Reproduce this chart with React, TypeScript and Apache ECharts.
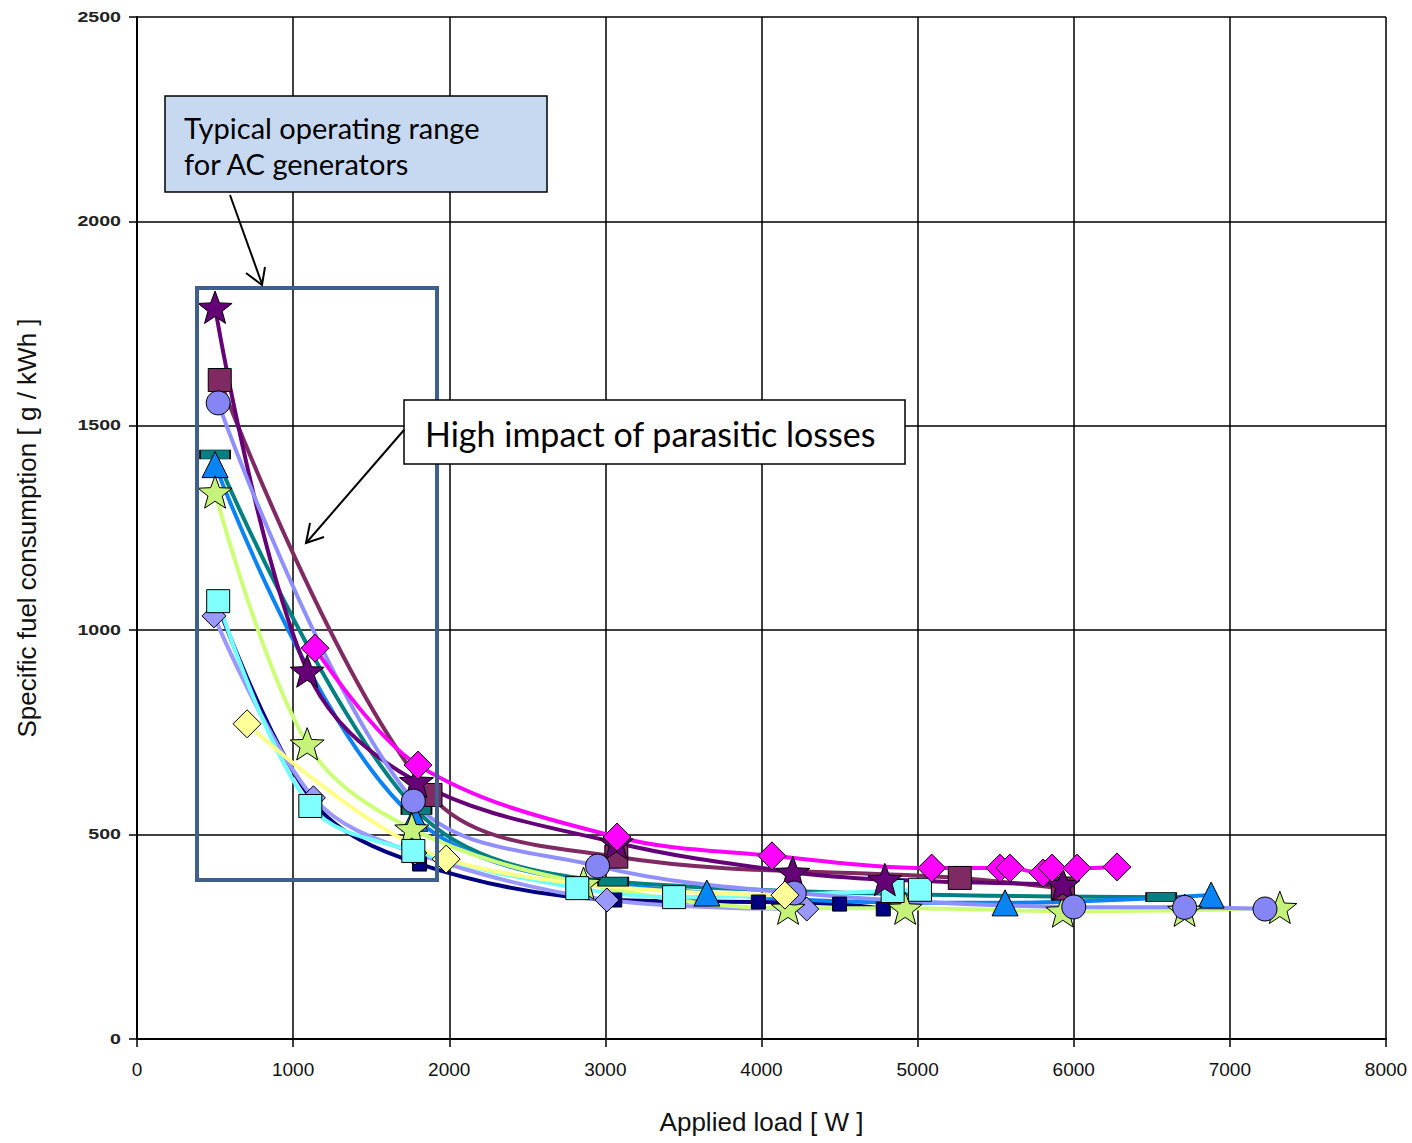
import React, { useEffect, useRef } from "react";
import * as echarts from "echarts";

// ---------- data ----------
const xTicks = [0, 1000, 2000, 3000, 4000, 5000, 6000, 7000, 8000];
const yTicks = [0, 500, 1000, 1500, 2000, 2500];

const navyX = [500, 1130, 1810, 3060, 3980, 4500, 4780];
const navyY = [1080, 580, 428, 340, 335, 330, 318];

const lavDiaX = [493, 1130, 1780, 3010, 4290];
const lavDiaY = [1035, 590, 455, 340, 318];

const tealX = [500, 1790, 3050, 6560];
const tealY = [1430, 560, 385, 347];

const blueX = [500, 1780, 3650, 5560, 6880];
const blueY = [1405, 540, 357, 333, 352];

const greenX = [500, 1090, 1760, 2860, 4170, 4920, 5930, 6710, 7320];
const greenY = [1338, 722, 514, 381, 320, 320, 313, 315, 322];

const cyanX = [520, 1110, 1770, 2820, 3440, 4840, 5015];
const cyanY = [1071, 570, 460, 369, 347, 362, 365];

const maroonX = [530, 1880, 3070, 5270, 5930];
const maroonY = [1612, 597, 446, 394, 368];

const purpleX = [500, 1090, 1790, 3070, 4200, 4790, 5930];
const purpleY = [1790, 900, 630, 480, 408, 390, 378];

const lavCircX = [520, 1770, 2950, 4210, 6000, 6710, 7225];
const lavCircY = [1556, 582, 423, 357, 323, 322, 318];

const yellowX = [705, 1980, 4150];
const yellowY = [771, 440, 352];

const magentaX = [1140, 1800, 3075, 4067, 5090, 5527, 5591, 5803, 5861, 6021, 6277];
const magentaY = [956, 670, 494, 448, 418, 418, 418, 406, 418, 418, 421];

// ---------- styling ----------
const STAR =
  "path://M50,0L62.34,33.01L97.55,34.55L69.97,56.49L79.39,90.45L50,71L20.61,90.45L30.03,56.49L2.45,34.55L37.66,33.01Z";

const AXIS_FONT = "'Liberation Sans', Arial, Helvetica, sans-serif";
const NOTE_FONT = "Lato, 'Open Sans', sans-serif";

function pairs(xs: number[], ys: number[]) {
  return xs.map((x, i) => [x, ys[i]]);
}

function mkSeries(
  name: string,
  xs: number[],
  ys: number[],
  lineColor: string,
  fill: string,
  symbol: string,
  size: number | number[]
) {
  return {
    name,
    type: "line",
    data: pairs(xs, ys),
    smooth: 0.35,
    symbol,
    symbolSize: size,
    symbolKeepAspect: true,
    showAllSymbol: true,
    lineStyle: { color: lineColor, width: 4 },
    itemStyle: { color: fill, borderColor: "#000", borderWidth: 1 },
    emphasis: { disabled: true },
    z: 3,
  };
}

const annotations: any[] = [
  {
    type: "rect",
    z: 100,
    shape: { x: 197, y: 288, width: 240, height: 592 },
    style: { fill: "none", stroke: "#3F5F8C", lineWidth: 4 },
  },
  {
    type: "rect",
    z: 100,
    shape: { x: 165, y: 96, width: 382, height: 96 },
    style: { fill: "#C6D9F1", stroke: "#000", lineWidth: 1.5 },
  },
  {
    type: "text",
    z: 101,
    x: 184,
    y: 127,
    style: {
      text: "Typical operating range",
      font: `29px ${NOTE_FONT}`,
      fill: "#000",
      verticalAlign: "middle",
    },
  },
  {
    type: "text",
    z: 101,
    x: 184,
    y: 163,
    style: {
      text: "for AC generators",
      font: `29px ${NOTE_FONT}`,
      fill: "#000",
      verticalAlign: "middle",
    },
  },
  {
    type: "line",
    z: 100,
    shape: { x1: 230, y1: 195, x2: 262, y2: 284 },
    style: { stroke: "#000", lineWidth: 2 },
  },
  {
    type: "polyline",
    z: 100,
    shape: { points: [[246, 273], [262, 285], [265, 267]] },
    style: { stroke: "#000", lineWidth: 2, fill: "none" },
  },
  {
    type: "rect",
    z: 100,
    shape: { x: 404, y: 400, width: 501, height: 64 },
    style: { fill: "#fff", stroke: "#000", lineWidth: 1.5 },
  },
  {
    type: "text",
    z: 101,
    x: 425,
    y: 433,
    style: {
      text: "High impact of parasitic losses",
      font: `34px ${NOTE_FONT}`,
      fill: "#000",
      verticalAlign: "middle",
    },
  },
  {
    type: "line",
    z: 100,
    shape: { x1: 404, y1: 430, x2: 307, y2: 542 },
    style: { stroke: "#000", lineWidth: 2 },
  },
  {
    type: "polyline",
    z: 100,
    shape: { points: [[310, 523], [306, 543], [324, 537]] },
    style: { stroke: "#000", lineWidth: 2, fill: "none" },
  },
];

export default function App() {
  const ref = useRef<HTMLDivElement>(null);

  useEffect(() => {
    if (!ref.current) return;
    const chart = echarts.init(ref.current, undefined, { renderer: "svg" });

    const series = [
      mkSeries("navy", navyX, navyY, "#000080", "#000080", "rect", 14),
      mkSeries("lavender2", lavDiaX, lavDiaY, "#9999FF", "#9999FF", "diamond", 24),
      mkSeries("teal", tealX, tealY, "#008080", "#008080", "rect", [30, 9]),
      mkSeries("blue", blueX, blueY, "#0A84F5", "#0A84F5", "triangle", 26),
      mkSeries("green", greenX, greenY, "#CCFF77", "#C4F27A", STAR, 34),
      mkSeries("cyan", cyanX, cyanY, "#70FFFF", "#80FFFF", "rect", 23),
      mkSeries("maroon", maroonX, maroonY, "#7F2A62", "#7F2A62", "rect", 23),
      mkSeries("purple", purpleX, purpleY, "#660077", "#660077", STAR, 34),
      mkSeries("lavcirc", lavCircX, lavCircY, "#8F8FFF", "#8585F5", "circle", 24),
      mkSeries("yellow", yellowX, yellowY, "#FFFF88", "#FFFF99", "diamond", 28),
      mkSeries("magenta", magentaX, magentaY, "#FF00FF", "#FF00FF", "diamond", 28),
    ];

    const option: any = {
      animation: false,
      backgroundColor: "#ffffff",
      grid: { left: 137, top: 17, width: 1249, height: 1022, containLabel: false },
      xAxis: {
        type: "value",
        min: xTicks[0],
        max: xTicks[xTicks.length - 1],
        interval: xTicks[1] - xTicks[0],
        name: "Applied load [ W ]",
        nameLocation: "middle",
        nameGap: 70,
        nameTextStyle: { fontSize: 26, color: "#111", fontFamily: AXIS_FONT },
        axisLine: { show: true, lineStyle: { color: "#000", width: 2 } },
        axisTick: { show: true, length: 8, lineStyle: { color: "#000", width: 1.5 } },
        axisLabel: {
          fontSize: 19,
          color: "#111",
          margin: 21,
          fontFamily: AXIS_FONT,
          formatter: (v: number) => String(v),
        },
        splitLine: { show: true, lineStyle: { color: "#000", width: 1.5 } },
      },
      yAxis: {
        type: "value",
        min: yTicks[0],
        max: yTicks[yTicks.length - 1],
        interval: yTicks[1] - yTicks[0],
        name: "Specific fuel consumption [ g / kWh ]",
        nameLocation: "middle",
        nameGap: 97,
        nameTextStyle: { fontSize: 26, color: "#111", fontFamily: AXIS_FONT },
        axisLine: { show: true, lineStyle: { color: "#000", width: 2 } },
        axisTick: { show: true, length: 8, lineStyle: { color: "#000", width: 1.5 } },
        axisLabel: { show: false, formatter: (v: number) => String(v) },
        splitLine: { show: true, lineStyle: { color: "#000", width: 1.5 } },
      },
      series,
      graphic: annotations,
    };

    chart.setOption(option);

    // y tick labels: placed through the axis scale, drawn wide as in the original
    const yLabels = yTicks.map((v) => {
      const py = chart.convertToPixel({ yAxisIndex: 0 }, v) as number;
      return {
        type: "text",
        z: 50,
        x: 121,
        y: py,
        scaleX: 1.4,
        style: {
          text: String(v),
          font: `bold 14px ${AXIS_FONT}`,
          fill: "#222",
          align: "right",
          verticalAlign: "middle",
        },
      };
    });
    chart.setOption({ graphic: [...annotations, ...yLabels] });

    return () => chart.dispose();
  }, []);

  return (
    <div
      ref={ref}
      style={{ position: "fixed", left: 0, top: 0, width: 1412, height: 1143, background: "#fff" }}
    />
  );
}
